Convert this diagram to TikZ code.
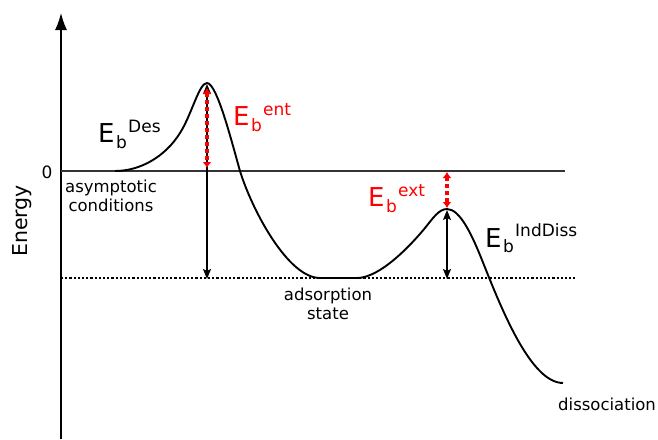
\documentclass[tikz,border=0pt]{standalone}
\usepackage{fontspec}
\setmainfont{DejaVu Sans}
\usetikzlibrary{arrows.meta}
\begin{document}
\begin{tikzpicture}[x=1pt,y=-1pt,
  bigE/.style={inner sep=0pt, anchor=base west, font=\fontsize{26}{26}\selectfont},
  subsup/.style={inner sep=0pt, anchor=base west, font=\fontsize{17}{17}\selectfont},
  small/.style={font=\fontsize{16.5}{19}\selectfont, align=center, inner sep=0pt},
  harrow/.style={line width=1.4pt, {Stealth[length=10pt,width=8pt,inset=2pt]}-{Stealth[length=10pt,width=8pt,inset=2pt]}},
  rarrow/.style={red, line width=3.2pt, dash pattern=on 4pt off 3pt, {Latex[length=6pt,width=9pt]}-{Latex[length=6pt,width=9pt]}},
  curve/.style={line width=1.9pt}
]
\useasboundingbox (0,0) rectangle (658,439);
% coordinates
\coordinate (axb) at (61,439);
\coordinate (axt) at (61,13);
\coordinate (z0) at (61,171);
\coordinate (z1) at (565,171);
\coordinate (d0) at (61,278);
\coordinate (d1) at (575,278);
\coordinate (pk1) at (207,84);
\coordinate (pk1r) at (207,88);
\coordinate (pk1z) at (207,168);
\coordinate (pk1a) at (207,279);
\coordinate (pk2z) at (447,172);
\coordinate (pk2r) at (447,208);
\coordinate (pk2) at (447,210);
\coordinate (pk2a) at (447,279);
% axes and levels
\draw[line width=1.4pt, -{Latex[length=17pt,width=12pt]}] (axb) -- (axt);
\draw[line width=1.2pt, black!80] (z0) -- (z1);
\draw[line width=2.2pt, dash pattern=on 2.2pt off 2pt] (d0) -- (d1);
% energy curve
\draw[curve] (115,171) .. controls (140,171) and (165,157) .. (180,133)
  .. controls (192,114) and (199,83) .. (207,83)
  .. controls (217,83) and (232,143) .. (240,171)
  .. controls (252,210) and (288,278) .. (320,278)
  -- (357,278)
  .. controls (380,278) and (411,245) .. (425,228)
  .. controls (433,218) and (439,209) .. (447,209)
  .. controls (460,209) and (472,235) .. (482,260)
  .. controls (500,305) and (530,383) .. (563,383);
% arrows
\draw[harrow] (pk1) -- (pk1a);
\draw[rarrow] (pk1r) -- (pk1z);
\draw[harrow] (pk2) -- (pk2a);
\draw[rarrow] (pk2z) -- (pk2r);
% E_b^Des
\node[bigE] (desE) at (98,142) {E};
\node[subsup] (desb) at ([xshift=1pt,yshift=-6pt]desE.base east) {b};
\node[subsup] (dess) at ([xshift=1pt,yshift=16pt]desb.base east) {Des};
% E_b^ent
\node[bigE, red] (entE) at (233,125) {E};
\node[subsup, red] (entb) at ([xshift=1pt,yshift=-6pt]entE.base east) {b};
\node[subsup, red] (ents) at ([xshift=1pt,yshift=16pt]entb.base east) {ent};
% E_b^ext
\node[bigE, red] (extE) at (368,206) {E};
\node[subsup, red] (extb) at ([xshift=1pt,yshift=-6pt]extE.base east) {b};
\node[subsup, red] (exts) at ([xshift=1pt,yshift=16pt]extb.base east) {ext};
% E_b^IndDiss
\node[bigE] (indE) at (485,247) {E};
\node[subsup] (indb) at ([xshift=1pt,yshift=-5pt]indE.base east) {b};
\node[subsup] (inds) at ([xshift=1pt,yshift=16pt]indb.base east) {IndDiss};
% texts
\node[font=\fontsize{17}{17}\selectfont, inner sep=0pt] (zero) at (47,172.5) {0};
\node[rotate=90, font=\fontsize{20.5}{20.5}\selectfont, inner sep=0pt] (energy) at (22,221) {Energy};
\node[small] (asym) at (111,196) {asymptotic\\conditions};
\node[small] (ads) at (328,304) {adsorption\\state};
\node[small, anchor=base west] (diss) at (558,410) {dissociation};
\end{tikzpicture}
\end{document}
